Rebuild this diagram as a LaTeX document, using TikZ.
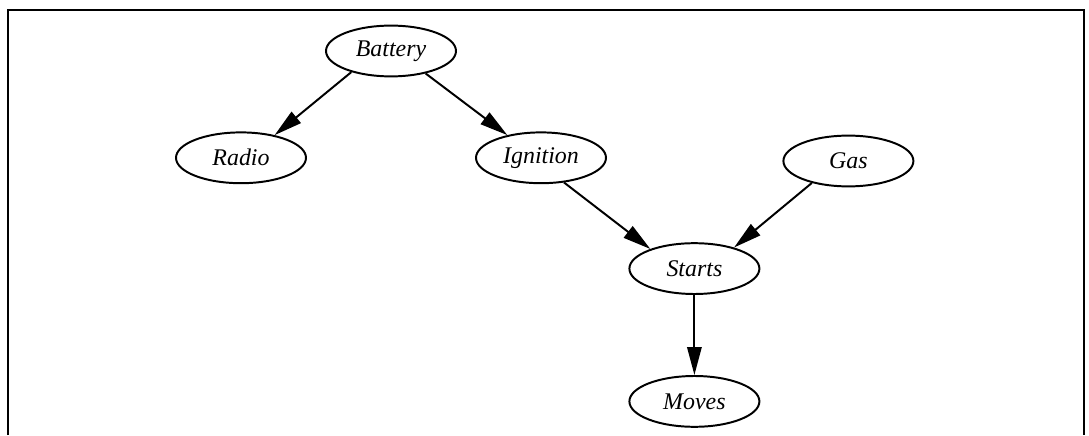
\documentclass[tikz,border=0pt]{standalone}
\usepackage{fontspec}
\setmainfont{Liberation Serif}
\usetikzlibrary{arrows.meta,shapes.geometric}

\begin{document}
\begin{tikzpicture}[>={Triangle[length=0.7cm,width=0.36cm]}, line width=1.4pt,
  var/.style={ellipse, draw, minimum width=3.25cm, minimum height=1.27cm, inner sep=0pt,
    font=\fontsize{17}{20}\selectfont\itshape}]
  \useasboundingbox (0,0) rectangle (27.225,10.875);

  % Frame (open at the bottom)
  \draw (0.19,0) -- (0.19,10.625) -- (27.1,10.625) -- (27.1,0);

  % Variables
  \node[var] (battery)  at (9.775,9.6)  {Battery};
  \node[var] (radio)    at (6.025,6.93) {Radio};
  \node[var] (ignition) at (13.525,6.93) {Ignition};
  \node[var] (gas)      at (21.21,6.85) {Gas};
  \node[var] (starts)   at (17.36,4.16) {Starts};
  \node[var] (moves)    at (17.36,0.84) {Moves};

  % Dependencies
  \draw[->] (battery.208) -- (radio.34);
  \draw[->] (battery.-33) -- (ignition.146);
  \draw[->] (ignition.-47) -- (starts.156);
  \draw[->] (gas.211) -- (starts.28);
  \draw[->] (starts) -- (moves);

\end{tikzpicture}
\end{document}
